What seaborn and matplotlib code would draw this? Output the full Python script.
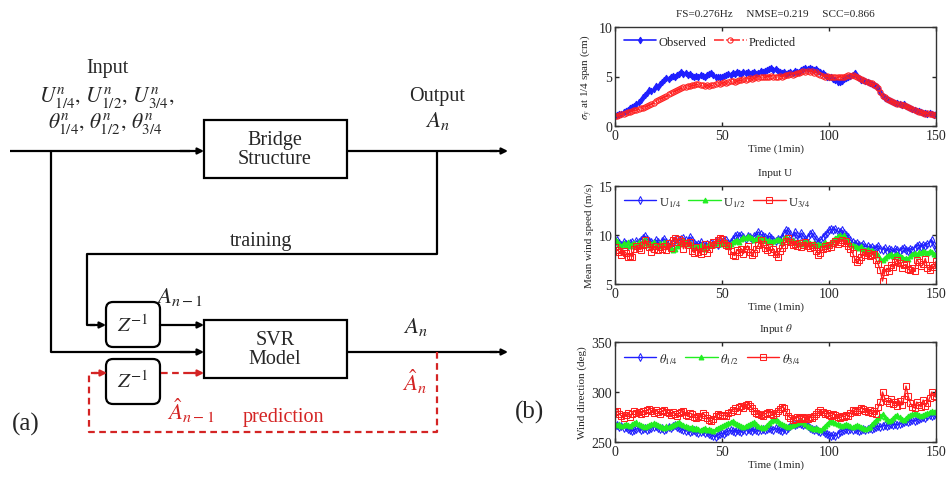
import numpy as np
import pandas as pd
import matplotlib
matplotlib.use("Agg")
import matplotlib.pyplot as plt
from matplotlib.patches import Rectangle, FancyBboxPatch
import seaborn as sns

# ---- data (1-min samples, t = 0..150) ----
time_min = list(range(151))

observed = [
    1.0, 1.1, 1.2, 1.2, 1.4, 1.5, 1.6, 1.8, 1.9, 2.0, 2.2,
    2.4, 2.6, 2.9, 3.1, 3.3, 3.6, 3.5, 3.7, 4.0, 3.9,
    4.2, 4.4, 4.6, 4.8, 4.7, 5.0, 5.1, 5.0, 5.2, 5.3,
    5.5, 5.3, 5.4, 5.2, 5.3, 5.1, 5.0, 5.1, 5.0, 5.2,
    5.1, 5.0, 5.2, 5.3, 5.4, 5.2, 5.0, 4.9, 4.9, 5.0,
    5.1, 5.2, 5.3, 5.2, 5.4, 5.3, 5.5, 5.4, 5.3, 5.5,
    5.4, 5.5, 5.3, 5.4, 5.5, 5.3, 5.4, 5.6, 5.5, 5.6,
    5.7, 5.8, 5.9, 5.7, 5.8, 5.6, 5.5, 5.4, 5.5, 5.3,
    5.4, 5.5, 5.4, 5.6, 5.5, 5.5, 5.7, 5.8, 5.9, 5.8,
    5.9, 5.8, 5.7, 5.8, 5.6, 5.5, 5.4, 5.2, 5.0, 4.9,
    4.9, 4.7, 4.6, 4.4, 4.4, 4.5, 4.7, 4.8, 4.9, 5.1,
    5.2, 5.4, 5.1, 4.8, 4.6, 4.6, 4.5, 4.4, 4.3, 4.2,
    4.1, 4.0, 3.8, 3.4, 3.0, 2.8, 2.7, 2.6, 2.5, 2.4,
    2.3, 2.3, 2.2, 2.1, 2.2, 2.0, 1.9, 1.8, 1.7, 1.6,
    1.5, 1.5, 1.4, 1.3, 1.3, 1.2, 1.3, 1.2, 1.1, 1.2,
]
predicted = [
    1.0, 1.0, 1.1, 1.2, 1.2, 1.3, 1.4, 1.4, 1.5, 1.6, 1.6,
    1.7, 1.8, 1.8, 1.9, 2.0, 2.1, 2.2, 2.3, 2.5, 2.6,
    2.7, 2.8, 2.9, 3.0, 3.2, 3.3, 3.4, 3.5, 3.6, 3.7,
    3.8, 3.9, 3.9, 4.0, 4.0, 4.1, 4.1, 4.2, 4.2, 4.1,
    4.1, 4.0, 4.1, 4.0, 4.1, 4.1, 4.2, 4.3, 4.2, 4.3,
    4.4, 4.3, 4.4, 4.5, 4.5, 4.4, 4.5, 4.6, 4.6, 4.7,
    4.6, 4.7, 4.8, 4.7, 4.8, 4.9, 4.8, 4.9, 5.0, 4.9,
    5.0, 5.0, 5.1, 5.0, 4.9, 5.0, 5.1, 5.0, 5.1, 5.2,
    5.2, 5.3, 5.2, 5.3, 5.4, 5.4, 5.5, 5.6, 5.5, 5.6,
    5.5, 5.6, 5.4, 5.5, 5.3, 5.2, 5.1, 5.0, 5.1, 5.0,
    4.9, 5.0, 4.9, 4.9, 5.0, 4.9, 5.0, 5.1, 5.2, 5.1,
    5.2, 5.1, 5.0, 4.8, 4.7, 4.6, 4.5, 4.4, 4.3, 4.3,
    4.1, 4.0, 3.8, 3.4, 3.0, 2.9, 2.7, 2.6, 2.5, 2.4,
    2.3, 2.2, 2.2, 2.1, 2.1, 2.0, 1.9, 1.8, 1.7, 1.6,
    1.5, 1.4, 1.4, 1.3, 1.2, 1.3, 1.2, 1.2, 1.1, 1.1,
]

u_14 = [
    9.3, 9.5, 9.2, 9.0, 9.3, 9.1, 9.0, 9.2, 9.3, 9.0, 9.4,
    9.3, 9.5, 9.7, 9.9, 9.6, 9.4, 9.3, 9.2, 9.5, 9.3,
    9.1, 9.4, 9.6, 9.3, 9.2, 9.0, 9.3, 9.5, 9.6, 9.4,
    9.6, 9.7, 9.5, 9.3, 9.8, 9.5, 9.2, 9.0, 9.1, 9.3,
    9.0, 8.9, 9.1, 9.0, 9.2, 9.1, 9.3, 9.0, 9.2, 9.3,
    9.4, 9.5, 9.2, 9.3, 9.6, 9.9, 10.0, 9.9, 10.0, 9.8,
    9.6, 9.9, 9.8, 9.6, 9.9, 10.0, 10.3, 10.1, 9.9, 9.8,
    9.6, 9.9, 9.7, 9.5, 9.4, 9.6, 9.5, 9.8, 10.2, 10.5,
    10.4, 10.1, 9.8, 10.3, 10.0, 9.7, 10.2, 9.9, 9.6, 9.8,
    10.1, 10.2, 9.9, 9.6, 9.3, 9.5, 9.8, 10.0, 10.2, 10.5,
    10.6, 10.5, 10.6, 10.4, 10.3, 10.5, 10.2, 10.0, 9.8, 9.5,
    9.3, 9.1, 9.2, 9.0, 8.9, 9.1, 8.8, 8.9, 8.7, 8.8,
    8.6, 8.7, 8.9, 8.6, 8.5, 8.7, 8.4, 8.6, 8.5, 8.3,
    8.6, 8.5, 8.4, 8.6, 8.7, 8.5, 8.4, 8.6, 8.5, 8.7,
    8.9, 9.0, 8.8, 9.0, 8.9, 9.1, 9.2, 9.5, 9.0, 8.6,
]
u_12 = [
    9.6, 9.4, 9.1, 8.9, 9.2, 9.0, 9.3, 8.9, 9.1, 9.2, 9.0,
    9.3, 9.1, 9.4, 9.6, 9.2, 9.0, 9.1, 9.3, 9.0, 8.9,
    9.2, 9.0, 9.3, 9.1, 8.9, 8.7, 8.5, 8.6, 8.9, 9.1,
    9.2, 9.4, 9.3, 9.1, 9.2, 9.0, 8.8, 8.9, 8.8, 9.0,
    8.8, 8.6, 8.9, 9.0, 9.1, 9.0, 9.2, 9.3, 9.2, 9.1,
    9.3, 9.2, 9.0, 9.1, 9.3, 9.4, 9.5, 9.3, 9.6, 9.8,
    9.7, 9.9, 9.8, 9.7, 9.5, 9.6, 9.8, 9.7, 9.5, 9.6,
    9.4, 9.5, 9.3, 9.4, 9.5, 9.6, 9.5, 9.3, 9.7, 9.8,
    9.6, 9.4, 9.5, 9.3, 9.2, 9.3, 9.1, 9.2, 9.4, 9.3,
    9.2, 9.1, 9.2, 9.0, 9.1, 9.0, 9.1, 9.3, 9.0, 9.1,
    9.3, 9.5, 9.7, 9.9, 10.0, 9.8, 10.0, 9.6, 9.4, 9.1,
    9.0, 8.9, 8.8, 8.7, 8.9, 8.6, 8.5, 8.6, 8.4, 8.5,
    8.3, 8.2, 8.0, 7.6, 7.5, 7.7, 7.9, 8.0, 8.1, 7.9,
    8.0, 8.1, 7.9, 7.8, 7.6, 7.7, 7.6, 7.9, 8.1, 8.2,
    8.0, 8.3, 8.2, 8.4, 8.3, 8.2, 8.4, 8.3, 8.1, 8.0,
]
u_34 = [
    8.8, 8.5, 8.3, 8.0, 8.4, 8.2, 7.8, 7.9, 7.8, 8.6, 8.9,
    8.7, 8.5, 9.0, 9.5, 9.1, 8.8, 8.3, 8.6, 8.9, 8.5,
    8.8, 8.6, 8.9, 8.5, 9.2, 8.7, 9.5, 9.7, 9.3, 9.6,
    9.4, 8.6, 9.2, 9.0, 9.3, 8.4, 8.2, 8.8, 8.3, 8.1,
    8.4, 9.1, 8.2, 8.6, 9.0, 9.3, 9.1, 9.5, 9.7, 9.6,
    9.2, 9.0, 8.9, 8.4, 8.0, 7.9, 8.5, 8.3, 8.6, 8.1,
    8.6, 8.9, 8.3, 8.0, 8.2, 8.6, 9.0, 9.5, 9.1, 8.7,
    8.5, 8.8, 8.3, 8.6, 8.1, 7.8, 8.4, 8.7, 9.0, 9.4,
    9.7, 9.3, 9.0, 9.1, 8.9, 9.2, 8.8, 9.0, 9.3, 8.9,
    8.7, 9.0, 8.8, 8.4, 8.0, 8.2, 8.6, 8.9, 8.7, 9.0,
    8.8, 9.2, 9.4, 9.1, 9.3, 9.5, 9.2, 9.4, 8.9, 8.6,
    8.2, 7.6, 7.2, 7.5, 7.8, 8.3, 8.0, 8.2, 7.9, 8.0,
    8.1, 7.5, 7.0, 6.4, 5.3, 6.2, 6.6, 6.3, 6.9, 6.7,
    7.2, 7.5, 7.1, 6.6, 6.9, 7.0, 6.5, 6.4, 6.6, 6.3,
    7.5, 7.2, 6.8, 7.0, 7.6, 6.6, 6.4, 6.9, 6.7, 7.3,
]

theta_14 = [
    266, 267, 265, 266, 264, 265, 263, 262, 261, 262, 263,
    264, 262, 263, 264, 262, 263, 264, 265, 266, 264,
    263, 264, 262, 263, 265, 264, 266, 267, 265, 264,
    263, 262, 261, 262, 260, 261, 262, 260, 259, 260,
    261, 259, 260, 258, 257, 256, 255, 257, 258, 259,
    258, 260, 261, 262, 261, 260, 262, 261, 260, 262,
    261, 263, 262, 261, 263, 262, 261, 262, 263, 262,
    263, 264, 263, 262, 264, 263, 262, 261, 263, 262,
    264, 266, 268, 267, 268, 269, 268, 267, 268, 266,
    264, 263, 262, 263, 261, 260, 261, 259, 258, 257,
    256, 257, 256, 258, 260, 261, 262, 263, 262, 263,
    262, 263, 262, 261, 262, 263, 262, 263, 264, 263,
    264, 265, 266, 265, 266, 267, 266, 267, 268, 267,
    268, 267, 268, 269, 270, 271, 270, 271, 272, 271,
    272, 273, 274, 275, 274, 276, 277, 276, 277, 278,
]
theta_12 = [
    268, 267, 268, 266, 267, 268, 267, 266, 268, 269, 270,
    268, 267, 266, 265, 266, 267, 268, 269, 268, 267,
    266, 265, 264, 266, 265, 266, 267, 268, 269, 270,
    268, 267, 266, 265, 264, 265, 263, 264, 263, 262,
    263, 264, 262, 263, 262, 261, 263, 264, 265, 266,
    267, 268, 269, 270, 271, 269, 268, 267, 266, 265,
    266, 267, 268, 269, 270, 268, 266, 265, 264, 265,
    267, 269, 271, 272, 273, 271, 269, 268, 267, 266,
    265, 266, 267, 268, 269, 270, 271, 270, 268, 266,
    265, 264, 263, 264, 263, 262, 264, 266, 268, 270,
    271, 270, 269, 268, 267, 266, 267, 268, 267, 266,
    265, 266, 267, 266, 265, 264, 263, 264, 265, 268,
    270, 272, 274, 276, 278, 275, 273, 271, 272, 274,
    276, 277, 275, 273, 272, 274, 276, 277, 278, 279,
    278, 277, 276, 277, 278, 279, 280, 281, 280, 281,
]
theta_34 = [
    280, 281, 278, 276, 274, 277, 279, 275, 278, 281, 279,
    280, 278, 281, 279, 282, 283, 281, 279, 282, 280,
    278, 281, 282, 280, 279, 277, 280, 278, 276, 279,
    280, 281, 277, 276, 279, 278, 275, 274, 276, 275,
    279, 277, 274, 272, 271, 273, 276, 278, 277, 276,
    277, 276, 279, 280, 282, 284, 281, 285, 286, 284,
    287, 288, 286, 284, 281, 279, 278, 277, 276, 278,
    279, 280, 278, 277, 279, 281, 283, 285, 284, 280,
    276, 274, 272, 273, 275, 274, 273, 275, 274, 273,
    275, 274, 276, 278, 280, 282, 280, 278, 279, 277,
    276, 278, 277, 275, 274, 276, 275, 277, 276, 279,
    282, 281, 280, 282, 284, 283, 281, 280, 282, 279,
    281, 278, 285, 290, 300, 294, 291, 289, 293, 288,
    290, 286, 291, 287, 293, 306, 296, 289, 285, 284,
    290, 287, 285, 292, 286, 289, 294, 300, 296, 295,
]

metrics_title = "FS=0.276Hz     NMSE=0.219     SCC=0.866"

BLUE = "#1f1fff"
GREEN = "#22ee22"
RED = "#ff1f1f"
DRED = "#d42424"

sns.set_style("ticks")
plt.rcParams["font.family"] = ["Liberation Serif", "DejaVu Serif"]
plt.rcParams["mathtext.fontset"] = "stix"

fig = plt.figure(figsize=(9.49, 4.81), dpi=100)

# ---------------- (a) block diagram, drawn in pixel units ----------------
ad = fig.add_axes([0, 0, 520 / 949, 1])
ad.set_xlim(0, 520)
ad.set_ylim(481, 0)
ad.axis("off")

LW = 1.6
TXT = 14.5
MATH = 16.5


def arrow(ax, p0, p1, color="k", ls="-"):
    ax.annotate("", xy=p1, xytext=p0,
                arrowprops=dict(arrowstyle="-|>", color=color, lw=LW, ls=ls,
                                shrinkA=0, shrinkB=0, mutation_scale=9))


def poly(ax, xs, ys, color="k", ls="-"):
    ax.plot(xs, ys, color=color, lw=LW, ls=ls, solid_capstyle="butt")


# boxes
ad.add_patch(Rectangle((204, 121), 143, 58, fill=False, lw=LW, ec="k"))
ad.add_patch(Rectangle((204, 321), 143, 58, fill=False, lw=LW, ec="k"))
for yb in (303, 360):
    ad.add_patch(FancyBboxPatch((106, yb), 54, 45, fill=False, lw=LW, ec="k",
                                boxstyle="round,pad=0,rounding_size=7"))

ad.text(275, 150, "Bridge\nStructure", ha="center", va="center", fontsize=TXT,
        linespacing=1.05)
ad.text(275, 350, "SVR\nModel", ha="center", va="center", fontsize=TXT,
        linespacing=1.05)
ad.text(133, 326, r"$Z^{-1}$", ha="center", va="center", fontsize=15)
ad.text(133, 382, r"$Z^{-1}$", ha="center", va="center", fontsize=15)

# black signal paths
poly(ad, [10, 190], [152, 152])
arrow(ad, (180, 152), (204, 152))
poly(ad, [347, 497], [152, 152])
arrow(ad, (490, 152), (508, 152))
poly(ad, [51, 51, 190], [152, 353, 353])
arrow(ad, (180, 353), (204, 353))
poly(ad, [437, 437, 87, 87, 95], [152, 255, 255, 326, 326])
arrow(ad, (90, 326), (106, 326))
arrow(ad, (160, 326), (204, 326))
poly(ad, [347, 497], [353, 353])
arrow(ad, (490, 353), (508, 353))

# red dashed prediction loop
poly(ad, [437, 437, 89, 89, 97], [353, 433, 433, 374, 374], color=DRED, ls=(0, (3, 2)))
arrow(ad, (94, 374), (107, 374), color=DRED)
poly(ad, [161, 195], [374, 374], color=DRED, ls=(0, (3, 2)))
arrow(ad, (190, 374), (204, 374), color=DRED)

# labels
ad.text(107, 69, "Input", ha="center", va="center", fontsize=TXT)
ad.text(107, 98, r"$U_{1/4}^{n},\,U_{1/2}^{n},\,U_{3/4}^{n},$", ha="center", va="center",
        fontsize=15.5)
ad.text(105, 124, r"$\theta_{1/4}^{n},\,\theta_{1/2}^{n},\,\theta_{3/4}^{n}$", ha="center",
        va="center", fontsize=15.5)
ad.text(437, 96, "Output", ha="center", va="center", fontsize=TXT)
ad.text(437, 121, r"$A_n$", ha="center", va="center", fontsize=MATH)
ad.text(261, 242, "training", ha="center", va="center", fontsize=TXT)
ad.text(180, 297, r"$A_{n-1}$", ha="center", va="center", fontsize=MATH)
ad.text(415, 327, r"$A_n$", ha="center", va="center", fontsize=MATH)
ad.text(415, 382, r"$\hat{A}_n$", ha="center", va="center", fontsize=MATH, color=DRED)
ad.text(191, 411, r"$\hat{A}_{n-1}$", ha="center", va="center", fontsize=MATH, color=DRED)
ad.text(283, 418, "prediction", ha="center", va="center", fontsize=TXT, color=DRED)
ad.text(26, 424, "(a)", ha="center", va="center", fontsize=18)
fig.text(530 / 949, 1 - 412 / 481, "(b)", ha="center", va="center", fontsize=18)

# ---------------- (b) time series ----------------
left, width = 615 / 949, 321 / 949
ax1 = fig.add_axes([left, 1 - 127 / 481, width, 99 / 481])
ax2 = fig.add_axes([left, 1 - 285 / 481, width, 98 / 481])
ax3 = fig.add_axes([left, 1 - 443 / 481, width, 100 / 481])

df1 = pd.DataFrame({"t": time_min, "Observed": observed, "Predicted": predicted})
sns.lineplot(data=df1, x="t", y="Observed", ax=ax1, color=BLUE, lw=1.2, marker="d",
             markersize=3.4, mec=BLUE, mfc=BLUE, label="Observed", estimator=None)
sns.lineplot(data=df1, x="t", y="Predicted", ax=ax1, color=RED, lw=1.1, ls="-.",
             marker="o", markersize=3.8, mec=RED, mfc="none", label="Predicted",
             estimator=None)

df2 = pd.DataFrame({"t": time_min, "u14": u_14, "u12": u_12, "u34": u_34})
sns.lineplot(data=df2, x="t", y="u14", ax=ax2, color=BLUE, lw=1.0, marker="d",
             markersize=4, mec=BLUE, mfc="none", label=r"U$_{1/4}$", estimator=None)
sns.lineplot(data=df2, x="t", y="u12", ax=ax2, color=GREEN, lw=1.0, marker="^",
             markersize=3.5, mec=GREEN, mfc=GREEN, label=r"U$_{1/2}$", estimator=None)
sns.lineplot(data=df2, x="t", y="u34", ax=ax2, color=RED, lw=1.0, marker="s",
             markersize=5, mec=RED, mfc="none", label=r"U$_{3/4}$", estimator=None)

df3 = pd.DataFrame({"t": time_min, "th14": theta_14, "th12": theta_12, "th34": theta_34})
sns.lineplot(data=df3, x="t", y="th14", ax=ax3, color=BLUE, lw=1.0, marker="d",
             markersize=4, mec=BLUE, mfc="none", label=r"$\theta_{1/4}$", estimator=None)
sns.lineplot(data=df3, x="t", y="th12", ax=ax3, color=GREEN, lw=1.0, marker="^",
             markersize=3.5, mec=GREEN, mfc=GREEN, label=r"$\theta_{1/2}$", estimator=None)
sns.lineplot(data=df3, x="t", y="th34", ax=ax3, color=RED, lw=1.0, marker="s",
             markersize=5, mec=RED, mfc="none", label=r"$\theta_{3/4}$", estimator=None)

panels = [
    (ax1, (0, 10), [0, 5, 10], r"$\sigma_y$ at 1/4 span (cm)", metrics_title, 2),
    (ax2, (5, 15), [5, 10, 15], "Mean wind speed (m/s)", "Input U", 3),
    (ax3, (250, 350), [250, 300, 350], "Wind direction (deg)", r"Input $\theta$", 3),
]
for ax, ylim, yt, ylab, title, ncol in panels:
    ax.set_xlim(0, 150)
    ax.set_ylim(*ylim)
    ax.set_xticks([0, 50, 100, 150])
    ax.set_yticks(yt)
    ax.tick_params(direction="in", top=True, right=True, labelsize=10, length=3,
                   width=1, pad=2)
    for sp in ax.spines.values():
        sp.set_visible(True)
        sp.set_linewidth(1.0)
        sp.set_color("#333333")
    ax.set_xlabel("Time (1min)", fontsize=8, labelpad=1)
    ax.set_ylabel(ylab, fontsize=8, labelpad=3)
    ax.set_title(title, fontsize=8, pad=8)
    ax.legend(loc="upper left", frameon=False, ncol=ncol, fontsize=9,
              handlelength=2.6, columnspacing=0.6, handletextpad=0.2,
              borderaxespad=0.3)

fig.savefig("out.png", dpi=100)
